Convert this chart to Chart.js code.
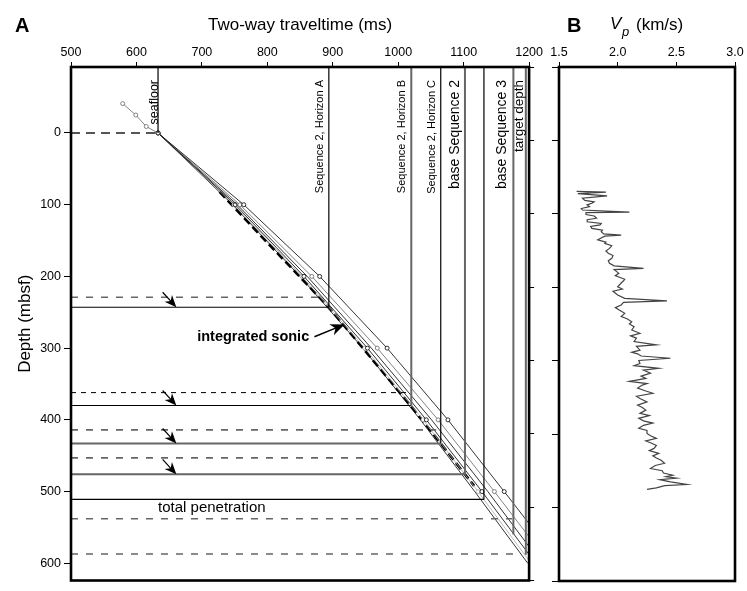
<!DOCTYPE html>
<html>
<head>
<meta charset="utf-8">
<script src="https://cdn.jsdelivr.net/npm/chart.js@4.4.1/dist/chart.umd.min.js"></script>
<style>
  body { margin: 0; background: #fff; }
  #wrap { position: relative; width: 747px; height: 591px; }
  canvas { position: absolute; top: 0; }
  #chartA { left: 0; }
  #chartB { left: 545px; }
</style>
</head>
<body>
<div id="wrap">
  <canvas id="chartA" width="545" height="591"></canvas>
  <canvas id="chartB" width="202" height="591"></canvas>
</div>
<script>
// Datos del panel A (tiempo doble en ms, profundidad en mbsf)
const timeMin = 500, timeMax = 1200;
const depthMinA = -92, depthMaxA = 624;

// Reflectores sísmicos
const reflectorNames = ['seafloor', 'Sequence 2, Horizon A', 'Sequence 2, Horizon B', 'Sequence 2, Horizon C',
                        'base Sequence 2', '', 'base Sequence 3', 'target depth'];
const reflectorTimes = [633, 894, 1020, 1065, 1102, 1131, 1176, 1195];
const reflectorDepths = [0, 243, 380, 433, 476, 511, 560, 588];

// Profundidades previstas (líneas discontinuas)
const dashedDepths = [0, 229, 362, 414, 453, 538, 587];
const dashedEndTimes = [633, 880, 1012, 1058, 1068, 1174, 1188];

// Curva de sónico integrado
const sonicDepths = [82, 150, 243, 300, 380, 433, 476, 492];
const sonicTimes = [727, 797, 894, 946, 1019, 1065, 1102, 1116];

// Curvas tiempo-profundidad de los modelos de velocidad
const modelDepths = [0, 100, 200, 300, 400, 500, 600];
const modelA = [633, 764, 880, 983, 1076, 1162, 1247];
const modelB = [633, 758, 868, 968, 1061, 1147, 1231];
const modelC = [633, 754, 861, 959, 1051, 1137, 1219];
const modelD = [633, 751, 856, 953, 1043, 1128, 1210];
const modelE = [633, 749, 853, 949, 1038, 1122, 1203];
const modelF = [633, 747, 850, 946, 1034, 1117, 1198];
const shallowDepths = [-41, -25, -9];
const shallowTimes = [579, 599, 615];

// Datos del panel B (Vp en km/s)
const vpMin = 1.5, vpMax = 3.0;
const depthMinB = -90, depthMaxB = 600;
const vpTickLabels = ['1.5', '2.0', '2.5', '3.0'];
const vpDepths = [77, 78, 80, 83, 86, 89, 91, 93, 95, 97.5, 100, 102, 104.7, 105.5, 108, 110, 113, 115, 117.7, 120,
  122, 124, 126.6, 129, 131, 134, 135.6, 137, 142, 145, 146.8, 150, 153.5, 157, 160, 163, 166.9, 170, 173.6, 177,
  180.3, 182, 187, 190, 192.5, 195, 197, 200, 205, 208, 211, 216, 220.6, 224, 226, 229.5, 233, 236, 240.7, 245,
  248, 252, 255, 258.7, 263, 267.5, 271, 274, 278.5, 283, 285, 290, 293, 295, 298, 301, 304, 308, 311, 314.5,
  317, 321, 325, 328, 332, 335, 337, 341, 345, 348, 352, 355, 359.5, 364, 367, 370.6, 375, 378, 381.6, 385,
  388, 391, 395, 398, 402, 405, 408.5, 412, 415, 418, 422, 425, 428.6, 432, 435, 438, 442, 445, 449, 452,
  455, 458, 460, 462, 464, 467, 470.5, 472, 475, 477];
const vpValues = [1.65, 1.90, 1.66, 1.91, 1.70, 1.72, 1.80, 1.78, 1.74, 1.76, 1.69, 1.70, 2.10, 1.73, 1.73, 1.80, 1.82, 1.74, 1.74, 1.86,
  1.85, 1.77, 1.78, 1.87, 1.86, 1.88, 2.03, 1.89, 1.83, 1.90, 1.89, 1.95, 1.93, 1.90, 1.92, 1.96, 1.95, 1.92, 1.93, 1.97,
  2.22, 1.97, 2.01, 1.98, 2.02, 2.06, 2.05, 2.03, 2.00, 2.04, 1.96, 2.00, 2.06, 2.42, 2.05, 2.03, 1.98, 2.01, 2.06, 2.03,
  2.08, 2.12, 2.10, 2.14, 2.12, 2.19, 2.11, 2.16, 2.14, 2.33, 2.16, 2.19, 2.12, 2.17, 2.20, 2.45, 2.18, 2.19, 2.14, 2.35,
  2.22, 2.28, 2.20, 2.24, 2.10, 2.25, 2.21, 2.17, 2.24, 2.30, 2.16, 2.19, 2.25, 2.17, 2.21, 2.24, 2.19, 2.27, 2.18, 2.22,
  2.30, 2.22, 2.18, 2.25, 2.25, 2.28, 2.33, 2.24, 2.29, 2.33, 2.31, 2.27, 2.35, 2.30, 2.33, 2.37, 2.40, 2.32, 2.28, 2.38,
  2.39, 2.47, 2.41, 2.50, 2.36, 2.45, 2.59, 2.40, 2.33, 2.25];

// ---- estilos ----
const FONT = "'Liberation Sans', Arial, Helvetica, sans-serif";
Chart.defaults.font.family = FONT;
Chart.defaults.color = '#000';

const reflectorColors = ['#000', '#000', '#666', '#000', '#666', '#000', '#666', '#666'];
const reflectorWidths = [1.2, 1.2, 2, 1.2, 2, 1.2, 2, 2];
const labelSizes = [12.5, 11, 11, 11, 14, 0, 14, 13.5];
const labelOffsets = [0.5, 6, 6, 6, 6, 0, 7, 2.7];
const solidLineColors = ['#000', '#000', '#666', '#666', '#000'];
const dashedColors = ['#555', '#666', '#000', '#666', '#666', '#666', '#666'];

function toPoints(xs, ys) {
    return xs.map((x, i) => ({ x: x, y: ys[i] }));
}

function lineSet(data, color, width, dash) {
    return { data: data, borderColor: color, borderWidth: width, borderDash: dash || [],
             showLine: true, pointRadius: 0, fill: false };
}

function modelSet(times, depths, color, markers) {
    return { data: toPoints(times, depths), borderColor: color, borderWidth: 0.8, showLine: true,
             pointRadius: markers ? 2 : 0, pointBackgroundColor: '#fff', pointBorderColor: color,
             pointBorderWidth: 0.8, fill: false };
}

function drawArrow(ctx, x1, y1, x2, y2, size, width) {
    const ang = Math.atan2(y2 - y1, x2 - x1);
    ctx.lineWidth = width;
    ctx.beginPath();
    ctx.moveTo(x1, y1);
    ctx.lineTo(x2 - Math.cos(ang) * size * 0.6, y2 - Math.sin(ang) * size * 0.6);
    ctx.stroke();
    ctx.save();
    ctx.translate(x2, y2);
    ctx.rotate(ang);
    ctx.beginPath();
    ctx.moveTo(0, 0);
    ctx.lineTo(-size, -size * 0.42);
    ctx.lineTo(-size * 0.7, 0);
    ctx.lineTo(-size, size * 0.42);
    ctx.closePath();
    ctx.fill();
    ctx.restore();
}

// ---- datasets panel A ----
const datasetsA = [];

// líneas discontinuas
dashedDepths.forEach((d, i) => {
    const dash = i === 0 ? [9, 6] : (i === 2 ? [5, 5] : [7, 8]);
    const w = i === 0 ? 2 : (i === 2 ? 1 : 1.6);
    datasetsA.push(lineSet([{ x: timeMin, y: d }, { x: dashedEndTimes[i], y: d }], dashedColors[i], w, dash));
});

// reflectores: vertical desde arriba y horizontal hasta la profundidad
reflectorTimes.forEach((t, i) => {
    datasetsA.push(lineSet([{ x: t, y: depthMinA }, { x: t, y: reflectorDepths[i] }],
        reflectorColors[i], reflectorWidths[i]));
});
[1, 2, 3, 4, 5].forEach((idx, k) => {
    datasetsA.push(lineSet([{ x: timeMin, y: reflectorDepths[idx] }, { x: reflectorTimes[idx], y: reflectorDepths[idx] }],
        solidLineColors[k], solidLineColors[k] === '#000' ? 1.2 : 2));
});

// curvas de modelos
datasetsA.push(modelSet(modelA, modelDepths, '#000', true));
datasetsA.push(modelSet(shallowTimes.concat(modelB), shallowDepths.concat(modelDepths), '#666', true));
datasetsA.push(modelSet(modelC, modelDepths, '#000', false));
datasetsA.push(modelSet(modelD, modelDepths, '#000', true));
datasetsA.push(modelSet(modelE, modelDepths, '#aaa', true));
datasetsA.push(modelSet(modelF, modelDepths, '#000', false));

// sónico integrado
datasetsA.push(lineSet(toPoints(sonicTimes, sonicDepths), '#000', 2.6, [8, 4]));

const panelAPlugin = {
    id: 'panelA',
    afterDatasetsDraw(chart) {
        const ctx = chart.ctx;
        const xs = chart.scales.x, ys = chart.scales.y;
        const area = chart.chartArea;
        ctx.save();
        ctx.fillStyle = '#000';
        ctx.strokeStyle = '#000';

        // etiquetas rotadas de los reflectores
        reflectorNames.forEach((name, i) => {
            if (!name) return;
            const px = xs.getPixelForValue(reflectorTimes[i]) - labelOffsets[i];
            ctx.save();
            ctx.translate(px, area.top + 13);
            ctx.rotate(-Math.PI / 2);
            ctx.font = labelSizes[i] + 'px ' + FONT;
            ctx.textAlign = 'right';
            ctx.textBaseline = 'alphabetic';
            ctx.fillText(name, 0, 0);
            ctx.restore();
        });

        // total penetration
        ctx.font = '15px ' + FONT;
        ctx.textAlign = 'left';
        ctx.textBaseline = 'middle';
        ctx.fillText('total penetration', xs.getPixelForValue(reflectorTimes[0]), ys.getPixelForValue(523));

        // integrated sonic
        ctx.font = 'bold 14.5px ' + FONT;
        ctx.textAlign = 'right';
        ctx.fillText('integrated sonic', xs.getPixelForValue(864), ys.getPixelForValue(284));
        drawArrow(ctx, xs.getPixelForValue(872), ys.getPixelForValue(284),
                  xs.getPixelForValue(918), ys.getPixelForValue(267), 14, 1.6);

        // flechas pequeñas de desplazamiento
        [1, 2, 3, 4].forEach(idx => {
            const d = reflectorDepths[idx];
            drawArrow(ctx, xs.getPixelForValue(640), ys.getPixelForValue(d) - 15,
                      xs.getPixelForValue(661), ys.getPixelForValue(d), 12, 1.2);
        });

        // marco
        ctx.lineWidth = 2.6;
        ctx.strokeRect(area.left, area.top, area.right - area.left, area.bottom - area.top);

        // letra del panel
        ctx.font = 'bold 20px ' + FONT;
        ctx.textAlign = 'left';
        ctx.textBaseline = 'middle';
        ctx.fillText('A', 15, 26);
        ctx.restore();
    }
};

new Chart(document.getElementById('chartA'), {
    type: 'scatter',
    data: { datasets: datasetsA },
    options: {
        responsive: false,
        animation: false,
        devicePixelRatio: 1,
        layout: { padding: { top: 0, left: 0, right: 0, bottom: 10 } },
        plugins: { legend: { display: false }, tooltip: { enabled: false } },
        scales: {
            x: {
                type: 'linear', position: 'top', min: timeMin, max: timeMax,
                ticks: { stepSize: 100, padding: 2, font: { size: 12.5 }, includeBounds: false,
                         callback: v => String(v) },
                grid: { drawOnChartArea: false, drawTicks: true, tickLength: 5, color: '#000' },
                border: { display: false },
                title: { display: true, text: 'Two-way traveltime (ms)', font: { size: 17 }, padding: { top: 15, bottom: 0 } },
                afterFit: s => { s.height = 67; }
            },
            y: {
                type: 'linear', position: 'left', reverse: true, min: depthMinA, max: depthMaxA,
                ticks: { stepSize: 100, padding: 3, font: { size: 12.5 }, includeBounds: false,
                         callback: v => String(v) },
                grid: { drawOnChartArea: false, drawTicks: true, tickLength: 7, color: '#000' },
                border: { display: false },
                title: { display: true, text: 'Depth (mbsf)', font: { size: 17 }, padding: { top: 15, bottom: 0 } },
                afterFit: s => { s.width = 71; }
            },
            y2: {
                type: 'linear', position: 'right', reverse: true, min: depthMinB, max: depthMaxB,
                ticks: { stepSize: 100, display: false, includeBounds: false },
                grid: { drawOnChartArea: false, drawTicks: true, tickLength: 5, color: '#000' },
                border: { display: false },
                afterFit: s => { s.width = 15; }
            }
        }
    },
    plugins: [panelAPlugin]
});

// ---- panel B ----
const panelBPlugin = {
    id: 'panelB',
    afterDatasetsDraw(chart) {
        const ctx = chart.ctx;
        const area = chart.chartArea;
        ctx.save();
        ctx.strokeStyle = '#000';
        ctx.fillStyle = '#000';
        ctx.lineWidth = 2.6;
        ctx.strokeRect(area.left, area.top, area.right - area.left, area.bottom - area.top);

        ctx.textBaseline = 'middle';
        ctx.textAlign = 'left';
        ctx.font = 'bold 20px ' + FONT;
        ctx.fillText('B', 22, 26);

        ctx.font = 'italic 17px ' + FONT;
        ctx.fillText('V', 65, 24);
        ctx.font = 'italic 13px ' + FONT;
        ctx.fillText('p', 77, 32);
        ctx.font = '17px ' + FONT;
        ctx.fillText('(km/s)', 91, 25);
        ctx.restore();
    }
};

new Chart(document.getElementById('chartB'), {
    type: 'scatter',
    data: {
        datasets: [{
            data: toPoints(vpValues, vpDepths),
            showLine: true, borderColor: '#444', borderWidth: 1.2, pointRadius: 0, fill: false
        }]
    },
    options: {
        responsive: false,
        animation: false,
        devicePixelRatio: 1,
        layout: { padding: { top: 0, left: 0, right: 12, bottom: 10 } },
        plugins: { legend: { display: false }, tooltip: { enabled: false } },
        scales: {
            x: {
                type: 'linear', position: 'top', min: vpMin, max: vpMax,
                ticks: { stepSize: 0.5, padding: 2, font: { size: 12.5 },
                         callback: (v, i) => vpTickLabels[i] },
                grid: { drawOnChartArea: false, drawTicks: true, tickLength: 5, color: '#000' },
                border: { display: false },
                afterFit: s => { s.height = 67; }
            },
            y: {
                type: 'linear', position: 'left', reverse: true, min: depthMinB, max: depthMaxB,
                ticks: { stepSize: 100, display: false, includeBounds: false },
                grid: { drawOnChartArea: false, drawTicks: true, tickLength: 7, color: '#000' },
                border: { display: false },
                afterFit: s => { s.width = 14; }
            }
        }
    },
    plugins: [panelBPlugin]
});
</script>
</body>
</html>
